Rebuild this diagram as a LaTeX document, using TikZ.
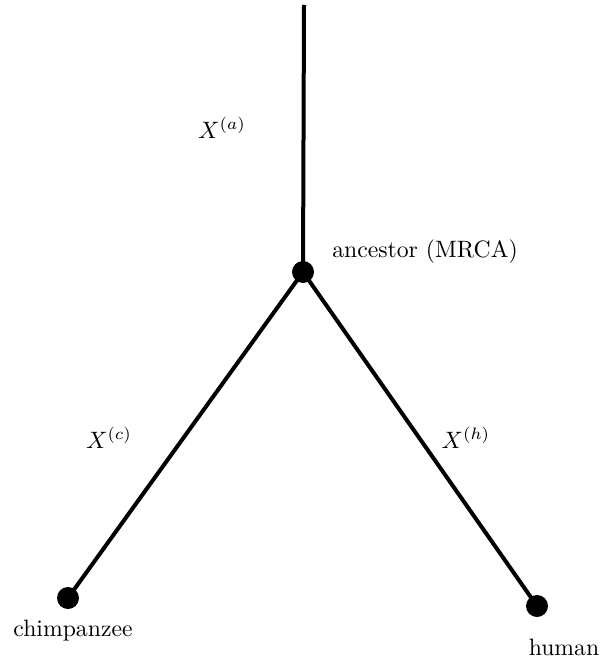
\documentclass[tikz,border=0pt]{standalone}
\begin{document}
\begin{tikzpicture}[x=1pt,y=-1pt,
  dotnode/.style={circle,fill=black,inner sep=0pt,minimum size=22pt},
  lbl/.style={scale=2.37,inner sep=0pt},
  branch/.style={line width=4pt}]
\useasboundingbox (0,0) rectangle (609,660);
\coordinate (top) at (304,5);
\node[dotnode] (anc) at (303,272) {};
\node[dotnode] (chimp) at (68,598) {};
\node[dotnode] (human) at (537,606) {};
\draw[branch] (top) -- (anc.center);
\draw[branch] (anc.center) -- (chimp.center);
\draw[branch] (anc.center) -- (human.center);
\node[lbl] (la) at (222,128) {$X^{(a)}$};
\node[lbl] (lc) at (109,438) {$X^{(c)}$};
\node[lbl] (lh) at (466,438) {$X^{(h)}$};
\node[lbl,anchor=base] (tanc) at (425,257) {ancestor (MRCA)};
\node[lbl,anchor=base] (tchimp) at (73,636) {chimpanzee};
\node[lbl,anchor=base] (thuman) at (564,655) {human};
\end{tikzpicture}
\end{document}
